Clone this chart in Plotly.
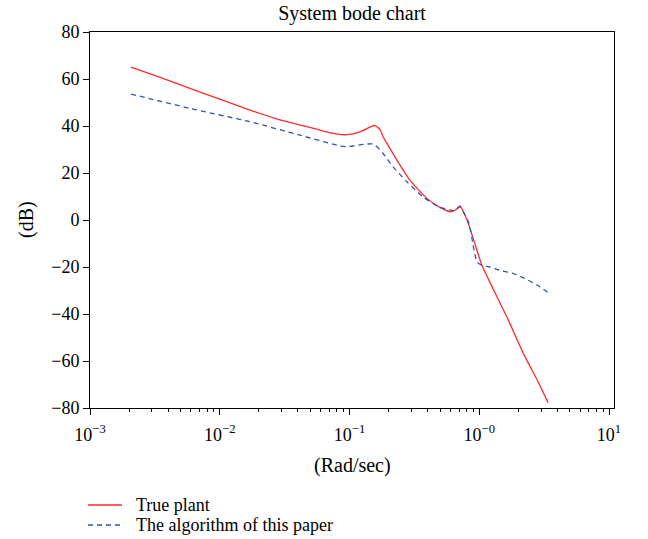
import plotly.graph_objects as go

# Frequency response samples (rad/sec) and magnitudes (dB)
w_true = [0.00207, 0.00347, 0.0059, 0.01, 0.0171, 0.0291, 0.0496, 0.0708, 0.0958,
          0.1205, 0.1439, 0.157, 0.172, 0.181, 0.205, 0.232, 0.292, 0.395, 0.498,
          0.605, 0.662, 0.711, 0.762, 0.805, 0.912, 1.05, 1.30, 1.64, 2.21, 2.84, 3.39]
mag_true = [65.1, 60.7, 56.0, 51.4, 46.8, 42.6, 39.4, 37.1, 36.3,
            37.5, 39.5, 40.2, 38.5, 35.5, 30.5, 25.5, 17.0, 9.2, 5.4,
            3.5, 4.5, 6.0, 3.0, 0.0, -9.0, -19.4, -30.1, -41.5, -57.3, -68.8, -77.7]

w_est = [0.00207, 0.0059, 0.0171, 0.0415, 0.0845, 0.0958, 0.152, 0.181, 0.216,
         0.277, 0.368, 0.472, 0.564, 0.650, 0.711, 0.762, 0.834, 0.912, 0.962,
         1.05, 1.21, 1.50, 1.79, 2.21, 2.84, 3.45]
mag_est = [53.6, 47.5, 41.8, 36.1, 31.5, 31.2, 32.3, 28.4, 22.7,
           16.3, 9.9, 6.0, 4.5, 4.0, 5.7, 3.0, -1.4, -12.9, -17.9,
           -19.3, -20.0, -21.7, -22.6, -24.7, -27.9, -31.2]

series_names = ["True plant", "The algorithm of this paper"]

x_major = [1e-3, 1e-2, 1e-1, 1e0, 1e1]
x_major_text = ["10<sup>−3</sup>", "10<sup>−2</sup>", "10<sup>−1</sup>",
                "10<sup>−0</sup>", "10<sup>1</sup>"]
y_ticks = [-80, -60, -40, -20, 0, 20, 40, 60, 80]

x_minor = [k * 10.0 ** e for e in range(-3, 1) for k in range(2, 10)]

FONT = "Liberation Serif"
TEXT_SIZE = 20
LEGEND_SIZE = 18
TICK_SIZE = 18
W, H = 648, 539
L, R, T, B = 90, 34, 32, 131
PW, PH = W - L - R, H - T - B
RED = "#ff2a2a"
BLUE = "#3553a8"
DASH = "5px,4px"


def px_x(x):
    return (x - L) / PW


def px_y(y):
    return (H - B - y) / PH


fig = go.Figure()
fig.add_trace(go.Scatter(x=w_true, y=mag_true, mode="lines", name=series_names[0],
                         line=dict(color=RED, width=1.3, shape="spline",
                                   smoothing=0.6)))
fig.add_trace(go.Scatter(x=w_est, y=mag_est, mode="lines", name=series_names[1],
                         line=dict(color=BLUE, width=1.3, dash=DASH,
                                   shape="spline", smoothing=0.6)))

# Legend below the axes: line samples with labels
legend_rows = [(series_names[0], RED, "solid", 505), (series_names[1], BLUE, DASH, 525)]
shapes, annotations = [], []
for name, color, dash, ypx in legend_rows:
    shapes.append(dict(type="line", xref="paper", yref="paper",
                       x0=px_x(88), x1=px_x(122), y0=px_y(ypx), y1=px_y(ypx),
                       line=dict(color=color, width=1.3, dash=dash)))
    annotations.append(dict(text=name, xref="paper", yref="paper",
                            x=px_x(134), y=px_y(ypx),
                            xanchor="left", yanchor="middle", showarrow=False,
                            font=dict(family=FONT, size=LEGEND_SIZE, color="black")))

# Axis titles
annotations.append(dict(text="(Rad/sec)", xref="paper", yref="paper",
                        x=px_x(352), y=px_y(465),
                        xanchor="center", yanchor="middle", showarrow=False,
                        font=dict(family=FONT, size=TEXT_SIZE, color="black")))
annotations.append(dict(text="(dB)", xref="paper", yref="paper",
                        x=px_x(26), y=px_y(220),
                        xanchor="center", yanchor="middle", showarrow=False,
                        textangle=-90,
                        font=dict(family=FONT, size=TEXT_SIZE, color="black")))

fig.update_layout(
    width=W, height=H,
    margin=dict(l=L, r=R, t=T, b=B, autoexpand=False),
    paper_bgcolor="white", plot_bgcolor="white",
    font=dict(family=FONT, size=TICK_SIZE, color="black"),
    title=dict(text="System bode chart", x=352 / W, xanchor="center",
               y=1 - 13 / H, yanchor="middle",
               font=dict(family=FONT, size=TEXT_SIZE, color="black")),
    showlegend=False,
    shapes=shapes,
    annotations=annotations,
)

fig.update_xaxes(
    type="log", range=[-3, 1.0385],
    tickvals=x_major, ticktext=x_major_text,
    ticks="outside", ticklen=6, tickcolor="black", ticklabelstandoff=4,
    minor=dict(tickvals=x_minor, ticks="outside", ticklen=3, tickcolor="black"),
    showline=True, linecolor="black", linewidth=1, mirror=True,
    showgrid=False, zeroline=False, automargin=False,
    tickfont=dict(family=FONT, size=TICK_SIZE),
)
fig.update_yaxes(
    range=[-80, 80], tickvals=y_ticks,
    ticktext=[str(v).replace("-", "−") for v in y_ticks],
    ticks="outside", ticklen=6, tickcolor="black",
    showline=True, linecolor="black", linewidth=1, mirror=True,
    showgrid=False, zeroline=False, automargin=False,
    tickfont=dict(family=FONT, size=TICK_SIZE),
)

fig.write_html("out.html")
